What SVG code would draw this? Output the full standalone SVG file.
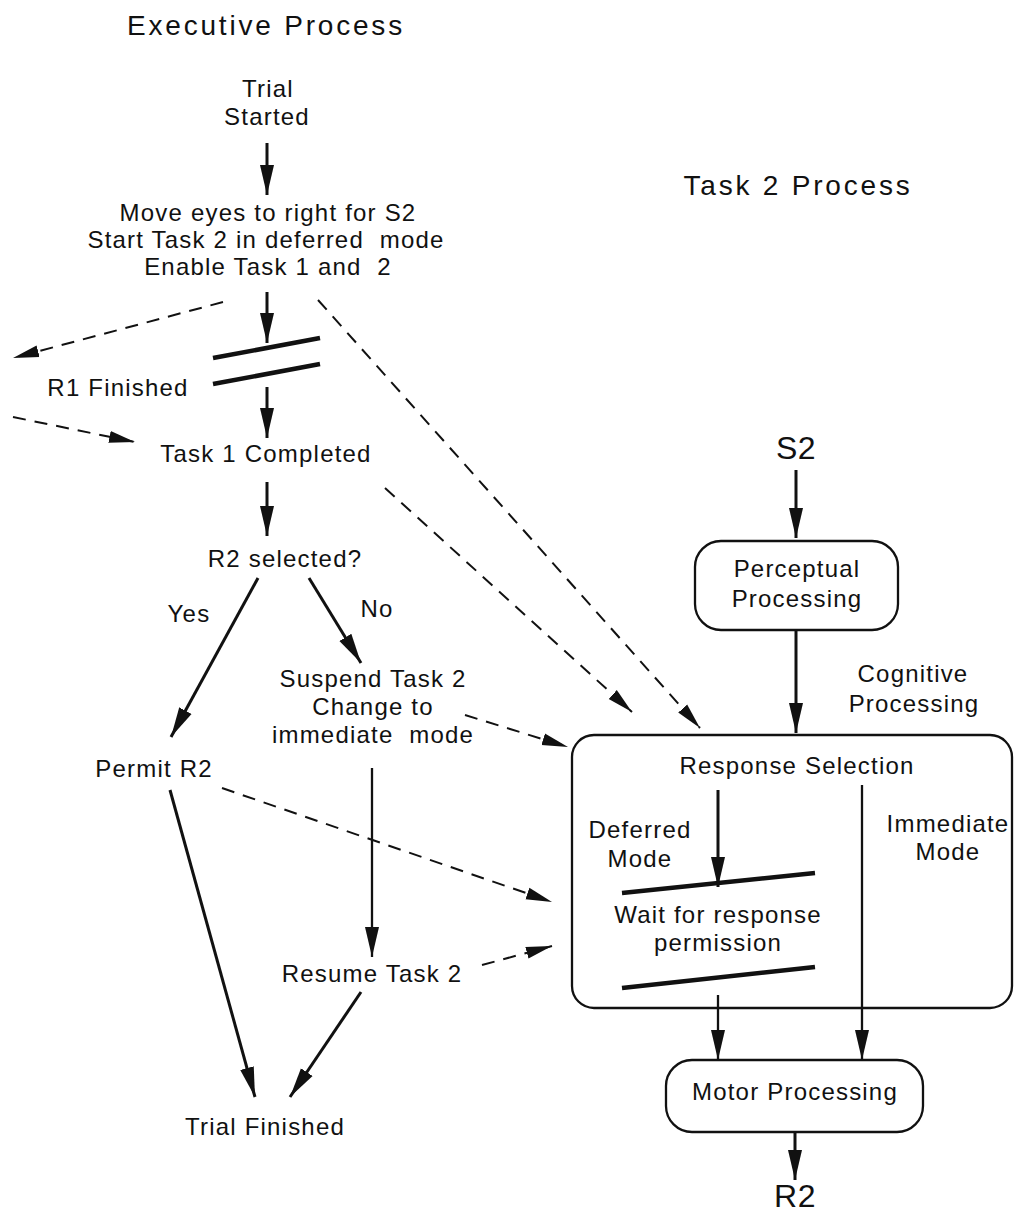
<svg xmlns="http://www.w3.org/2000/svg" width="1015" height="1213" viewBox="0 0 1015 1213">
<style>
.t{font-family:"Liberation Sans",Arial,Helvetica,sans-serif;font-size:24px;letter-spacing:1.2px;text-anchor:middle;fill:#111}
.h{font-size:28px;letter-spacing:2.8px}
.b{font-size:32px;letter-spacing:0.5px}
.s{fill:none;stroke:#111;stroke-width:3;marker-end:url(#ah)}
.s2{fill:none;stroke:#111;stroke-width:2.3;marker-end:url(#ah)}
.d{fill:none;stroke:#111;stroke-width:2;stroke-dasharray:13 9;marker-end:url(#dh)}
.bar{stroke:#111;stroke-width:4.5;fill:none}
.box{fill:none;stroke:#111;stroke-width:2.3}
</style>
<defs>
<marker id="ah" markerUnits="userSpaceOnUse" markerWidth="31" markerHeight="16" viewBox="0 0 31 16" refX="30" refY="8" orient="auto">
<path d="M0,1 L30,8 L0,15 z" fill="#111"/>
</marker>
<marker id="dh" markerUnits="userSpaceOnUse" markerWidth="27" markerHeight="14" viewBox="0 0 27 14" refX="26" refY="7" orient="auto">
<path d="M0,1 L26,7 L0,13 z" fill="#111"/>
</marker>
</defs>
<rect width="1015" height="1213" fill="#fff"/>

<g id="titles">
<text class="t h" x="266" y="35">Executive Process</text>
<text class="t h" x="798" y="195">Task 2 Process</text>
</g>

<g id="trial-started"><text class="t" x="268" y="97">Trial</text><text class="t" x="267" y="125">Started</text></g>
<g id="move-eyes">
<text class="t" x="268" y="221">Move eyes to right for S2</text>
<text class="t" x="266" y="248" xml:space="preserve">Start Task 2 in deferred  mode</text>
<text class="t" x="268" y="275" xml:space="preserve">Enable Task 1 and  2</text>
</g>
<g id="r1-finished">
<line class="bar" x1="213" y1="358" x2="320" y2="338"/>
<line class="bar" x1="213" y1="384" x2="320" y2="364"/>
<text class="t" x="118" y="396">R1 Finished</text>
</g>
<g id="task1-completed"><text class="t" x="266" y="462">Task 1 Completed</text></g>
<g id="r2-selected">
<text class="t" x="285" y="567">R2 selected?</text>
<text class="t" x="189" y="622">Yes</text>
<text class="t" x="377" y="617">No</text>
</g>
<g id="suspend">
<text class="t" x="373" y="687">Suspend Task 2</text>
<text class="t" x="373" y="715">Change to</text>
<text class="t" x="373" y="743" xml:space="preserve">immediate  mode</text>
</g>
<g id="permit-r2"><text class="t" x="154" y="777">Permit R2</text></g>
<g id="resume"><text class="t" x="372" y="982">Resume Task 2</text></g>
<g id="trial-finished"><text class="t" x="265" y="1135">Trial Finished</text></g>

<g id="s2"><text class="t b" x="796" y="459">S2</text></g>
<g id="perceptual">
<rect class="box" x="695" y="541" width="203" height="89" rx="26"/>
<text class="t" x="797" y="577">Perceptual</text>
<text class="t" x="797" y="607">Processing</text>
</g>
<g id="cognitive-label">
<text class="t" x="913" y="682">Cognitive</text>
<text class="t" x="914" y="712">Processing</text>
</g>
<g id="response-selection">
<rect class="box" x="572" y="735" width="440" height="273" rx="22"/>
<text class="t" x="797" y="774">Response Selection</text>
<text class="t" x="640" y="838">Deferred</text>
<text class="t" x="640" y="867">Mode</text>
<text class="t" x="948" y="832">Immediate</text>
<text class="t" x="948" y="860">Mode</text>
</g>
<g id="wait">
<line class="bar" x1="622" y1="893" x2="815" y2="873"/>
<line class="bar" x1="622" y1="988" x2="815" y2="967"/>
<text class="t" x="718" y="923">Wait for response</text>
<text class="t" x="718" y="951">permission</text>
</g>
<g id="motor">
<rect class="box" x="666" y="1060" width="257" height="72" rx="26"/>
<text class="t" x="795" y="1100">Motor Processing</text>
</g>
<g id="r2"><text class="t b" x="795" y="1207">R2</text></g>

<g id="connectors">
<line class="s" x1="267" y1="143" x2="267" y2="195"/>
<line class="s" x1="267" y1="292" x2="267" y2="343"/>
<line class="s" x1="267" y1="387" x2="267" y2="438"/>
<line class="s" x1="267" y1="482" x2="267" y2="536"/>
<line class="s" x1="258" y1="578" x2="171" y2="737"/>
<line class="s" x1="309" y1="578" x2="361" y2="663"/>
<line class="s2" x1="372" y1="768" x2="372" y2="957"/>
<line class="s" x1="170" y1="790" x2="255" y2="1097"/>
<line class="s" x1="361" y1="992" x2="290" y2="1097"/>
<line class="s" x1="796" y1="470" x2="796" y2="538"/>
<line class="s" x1="796" y1="630" x2="796" y2="733"/>
<line class="s" x1="718" y1="790" x2="718" y2="887"/>
<line class="s2" x1="718" y1="995" x2="718" y2="1060"/>
<line class="s2" x1="862" y1="785" x2="862" y2="1060"/>
<line class="s" x1="795" y1="1132" x2="795" y2="1180"/>
<line class="d" x1="223" y1="302" x2="13" y2="358"/>
<line class="d" x1="13" y1="417" x2="135" y2="442"/>
<line class="d" x1="318" y1="300" x2="700" y2="728"/>
<line class="d" x1="385" y1="488" x2="632" y2="712"/>
<line class="d" x1="465" y1="715" x2="568" y2="747"/>
<line class="d" x1="222" y1="788" x2="552" y2="902"/>
<line class="d" x1="482" y1="965" x2="552" y2="946"/>
</g>
</svg>
